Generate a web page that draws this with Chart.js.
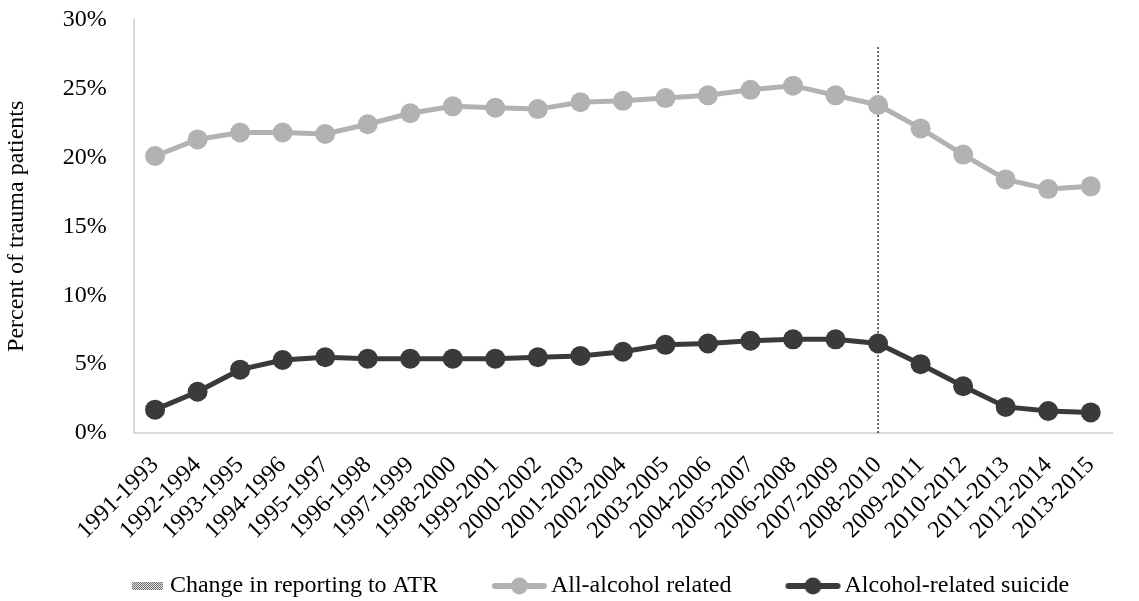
<!DOCTYPE html>
<html>
<head>
<meta charset="utf-8">
<script src="https://cdn.jsdelivr.net/npm/chart.js@4"></script>
<style>
  html, body { margin: 0; padding: 0; background: #fff; }
  #wrap { width: 1139px; height: 601px; }
</style>
</head>
<body>
<div id="wrap"><canvas id="myChart" width="1139" height="601"></canvas></div>
<script>
// periodos de 3 anos
const periodos = ['1991-1993','1992-1994','1993-1995','1994-1996','1995-1997','1996-1998','1997-1999',
  '1998-2000','1999-2001','2000-2002','2001-2003','2002-2004','2003-2005','2004-2006','2005-2007',
  '2006-2008','2007-2009','2008-2010','2009-2011','2010-2012','2011-2013','2012-2014','2013-2015'];

const todosAlcool = [20.1, 21.3, 21.8, 21.8, 21.7, 22.4, 23.2, 23.7, 23.6, 23.5, 24.0, 24.1,
  24.3, 24.5, 24.9, 25.2, 24.5, 23.8, 22.1, 20.2, 18.4, 17.7, 17.9];
const suicidioAlcool = [1.7, 3.0, 4.6, 5.3, 5.5, 5.4, 5.4, 5.4, 5.4, 5.5, 5.6, 5.9,
  6.4, 6.5, 6.7, 6.8, 6.8, 6.5, 5.0, 3.4, 1.9, 1.6, 1.5];

// linha vertical da mudanca de registro
const mudancaPeriodo = '2008-2010';
const mudancaTopo = 28;

const yTicks = [0, 5, 10, 15, 20, 25, 30];

const FONTE = "'Liberation Serif', 'Times New Roman', serif";
const CINZA = '#b2b2b2';
const ESCURO = '#3a3a3a';

// icones da legenda: imagem larga, conteudo encostado a direita
function iconeLinha(cor) {
  const c = document.createElement('canvas');
  c.width = 111; c.height = 20;
  const ctx = c.getContext('2d');
  ctx.strokeStyle = cor; ctx.lineWidth = 6; ctx.lineCap = 'round';
  ctx.beginPath(); ctx.moveTo(57, 10); ctx.lineTo(106, 10); ctx.stroke();
  ctx.fillStyle = cor;
  ctx.beginPath(); ctx.arc(81.5, 10, 8.5, 0, Math.PI * 2); ctx.fill();
  return c;
}

function iconeHachura() {
  const c = document.createElement('canvas');
  c.width = 111; c.height = 20;
  const ctx = c.getContext('2d');
  for (let i = 0; i < 31; i++) {
    for (let j = 0; j < 8; j++) {
      ctx.fillStyle = ((i + j) % 2 === 0) ? '#6a6a6a' : '#e6e6e6';
      ctx.fillRect(75 + i, 6 + j, 1, 1);
    }
  }
  return c;
}

// empurra a legenda um pouco para a direita
const ajusteLegenda = {
  id: 'ajusteLegenda',
  afterLayout(ch) {
    const l = ch.legend;
    l.left += 12; l.right += 12;
    l.top += 1; l.bottom += 1;
  }
};

const ctx = document.getElementById('myChart').getContext('2d');
const chart = new Chart(ctx, {
  type: 'line',
  data: {
    labels: periodos,
    datasets: [
      {
        label: 'Change in reporting to ATR',
        data: [{ x: mudancaPeriodo, y: mudancaTopo }, { x: mudancaPeriodo, y: 0 }],
        borderColor: '#000', borderWidth: 1.2, borderDash: [2, 2],
        pointRadius: 0, order: 3
      },
      {
        label: 'All-alcohol related',
        data: todosAlcool,
        borderColor: CINZA, backgroundColor: CINZA, borderWidth: 5,
        pointRadius: 10, pointBackgroundColor: CINZA, pointBorderWidth: 0,
        pointStyle: 'circle', order: 2
      },
      {
        label: 'Alcohol-related suicide',
        data: suicidioAlcool,
        borderColor: ESCURO, backgroundColor: ESCURO, borderWidth: 5,
        pointRadius: 10, pointBackgroundColor: ESCURO, pointBorderWidth: 0,
        pointStyle: 'circle', order: 1
      }
    ]
  },
  plugins: [ajusteLegenda],
  options: {
    responsive: false,
    animation: false,
    layout: { autoPadding: false, padding: { top: 0, right: 27, left: 0, bottom: -6 } },
    plugins: {
      tooltip: { enabled: false },
      legend: {
        position: 'bottom',
        labels: {
          color: '#000',
          font: { family: FONTE, size: 24 },
          usePointStyle: true,
          pointStyleWidth: 91,
          padding: 10,
          generateLabels: (ch) => ch.data.datasets.map((d, i) => ({
            text: d.label,
            pointStyle: i === 0 ? iconeHachura() : iconeLinha(d.borderColor),
            fillStyle: 'transparent', strokeStyle: 'transparent', lineWidth: 0,
            fontColor: '#000', datasetIndex: i
          }))
        }
      }
    },
    scales: {
      x: {
        type: 'category',
        offset: true,
        grid: { display: false, drawTicks: false },
        border: { display: true, color: '#d9d9d9', width: 2 },
        ticks: {
          color: '#000', font: { family: FONTE, size: 24 },
          minRotation: 45, maxRotation: 45, autoSkip: false, padding: 18
        }
      },
      y: {
        min: 0, max: 30,
        grid: { display: false, drawTicks: false },
        border: { display: true, color: '#d9d9d9', width: 2 },
        afterBuildTicks: (ax) => { ax.ticks = yTicks.map(v => ({ value: v })); },
        afterFit: (ax) => { ax.paddingTop = 19.5; ax.paddingBottom = 14.4; },
        ticks: {
          color: '#000', font: { family: FONTE, size: 24 }, padding: 27,
          callback: (v) => v + '%'
        },
        title: {
          display: true, text: 'Percent of trauma patients',
          color: '#000', font: { family: FONTE, size: 24 }, padding: { top: 2, bottom: 5 }
        }
      }
    }
  }
});
</script>
</body>
</html>
